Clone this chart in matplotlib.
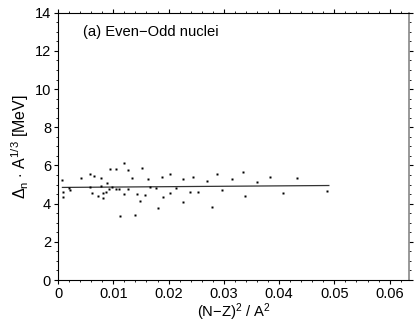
import matplotlib
matplotlib.use("Agg")
import matplotlib.pyplot as plt
from matplotlib.ticker import MultipleLocator

plt.rcParams['font.family'] = ['Liberation Sans', 'DejaVu Sans']
plt.rcParams['mathtext.fontset'] = 'custom'
plt.rcParams['mathtext.rm'] = 'Liberation Sans'
plt.rcParams['mathtext.it'] = 'Liberation Sans'
plt.rcParams['mathtext.sf'] = 'Liberation Sans'

x_vals = [0.00078, 0.00084, 0.00084, 0.0020, 0.0022, 0.0041, 0.0057, 0.0057, 0.0061, 0.0066,
          0.0072, 0.0077, 0.0077, 0.0082, 0.0082, 0.0087, 0.0088, 0.0092, 0.0094, 0.0098,
          0.0105, 0.0105, 0.0111, 0.0113, 0.0119, 0.0119, 0.0126, 0.0127, 0.0134, 0.0140,
          0.0142, 0.0148, 0.0152, 0.0157, 0.0163, 0.0167, 0.0177, 0.0180, 0.0189, 0.0190,
          0.0202, 0.0202, 0.0214, 0.0226, 0.0226, 0.0239, 0.0244, 0.0254, 0.0270, 0.0278,
          0.0288, 0.0296, 0.0314, 0.0335, 0.0339, 0.0360, 0.0383, 0.0407, 0.0433, 0.0486]
y_vals = [5.24, 4.63, 4.36, 4.80, 4.73, 5.34, 5.57, 4.85, 4.57, 5.46,
          4.40, 5.32, 4.92, 4.57, 4.28, 4.63, 5.10, 4.75, 5.80, 4.87,
          5.81, 4.77, 4.75, 3.35, 6.14, 4.52, 4.75, 5.76, 5.34, 3.39,
          4.52, 4.14, 5.88, 4.45, 5.29, 4.85, 4.83, 3.75, 5.38, 4.33,
          5.53, 4.57, 4.80, 5.31, 4.08, 4.59, 5.39, 4.59, 5.18, 3.84,
          5.57, 4.73, 5.31, 5.64, 4.38, 5.13, 5.39, 4.57, 5.36, 4.66]

fit_x = [0.0008, 0.0490]
fit_y = [4.85, 4.95]

fig = plt.figure(figsize=(4.15, 3.26), dpi=100)
ax = fig.add_axes([0.1398, 0.141, 0.8457, 0.820])

ax.plot(fit_x, fit_y, color='#333333', lw=0.9)
ax.plot(x_vals, y_vals, linestyle='none', marker='s', ms=1.7, color='black', mec='none')

ax.set_xlim(0, 0.0635)
ax.set_ylim(0, 14)
ax.xaxis.set_major_locator(MultipleLocator(0.01))
ax.xaxis.set_minor_locator(MultipleLocator(0.002))
ax.yaxis.set_major_locator(MultipleLocator(2))
ax.yaxis.set_minor_locator(MultipleLocator(0.5))
ax.set_xticks([0, 0.01, 0.02, 0.03, 0.04, 0.05, 0.06])
ax.set_xticklabels(['0', '0.01', '0.02', '0.03', '0.04', '0.05', '0.06'])

ax.tick_params(which='both', direction='out', top=True, right=True, labelsize=10.5, pad=2)
ax.tick_params(which='major', length=3, width=0.8)
ax.tick_params(which='minor', length=1.5, width=0.6)
for s in ax.spines.values():
    s.set_linewidth(0.8)
ax.spines['right'].set_color('#888888')
ax.spines['right'].set_linewidth(1.2)

ax.set_xlabel('(N\u2212Z)$^2$ / A$^2$', fontsize=10.6, labelpad=0)
ax.set_ylabel('$\\Delta_n$ $\\cdot$ A$^{1/3}$ [MeV]', fontsize=11.5, labelpad=3)

ax.text(0.0045, 13.0, '(a) Even\u2212Odd nuclei', fontsize=10.6, va='center', ha='left')

fig.savefig('out.png', dpi=100)
